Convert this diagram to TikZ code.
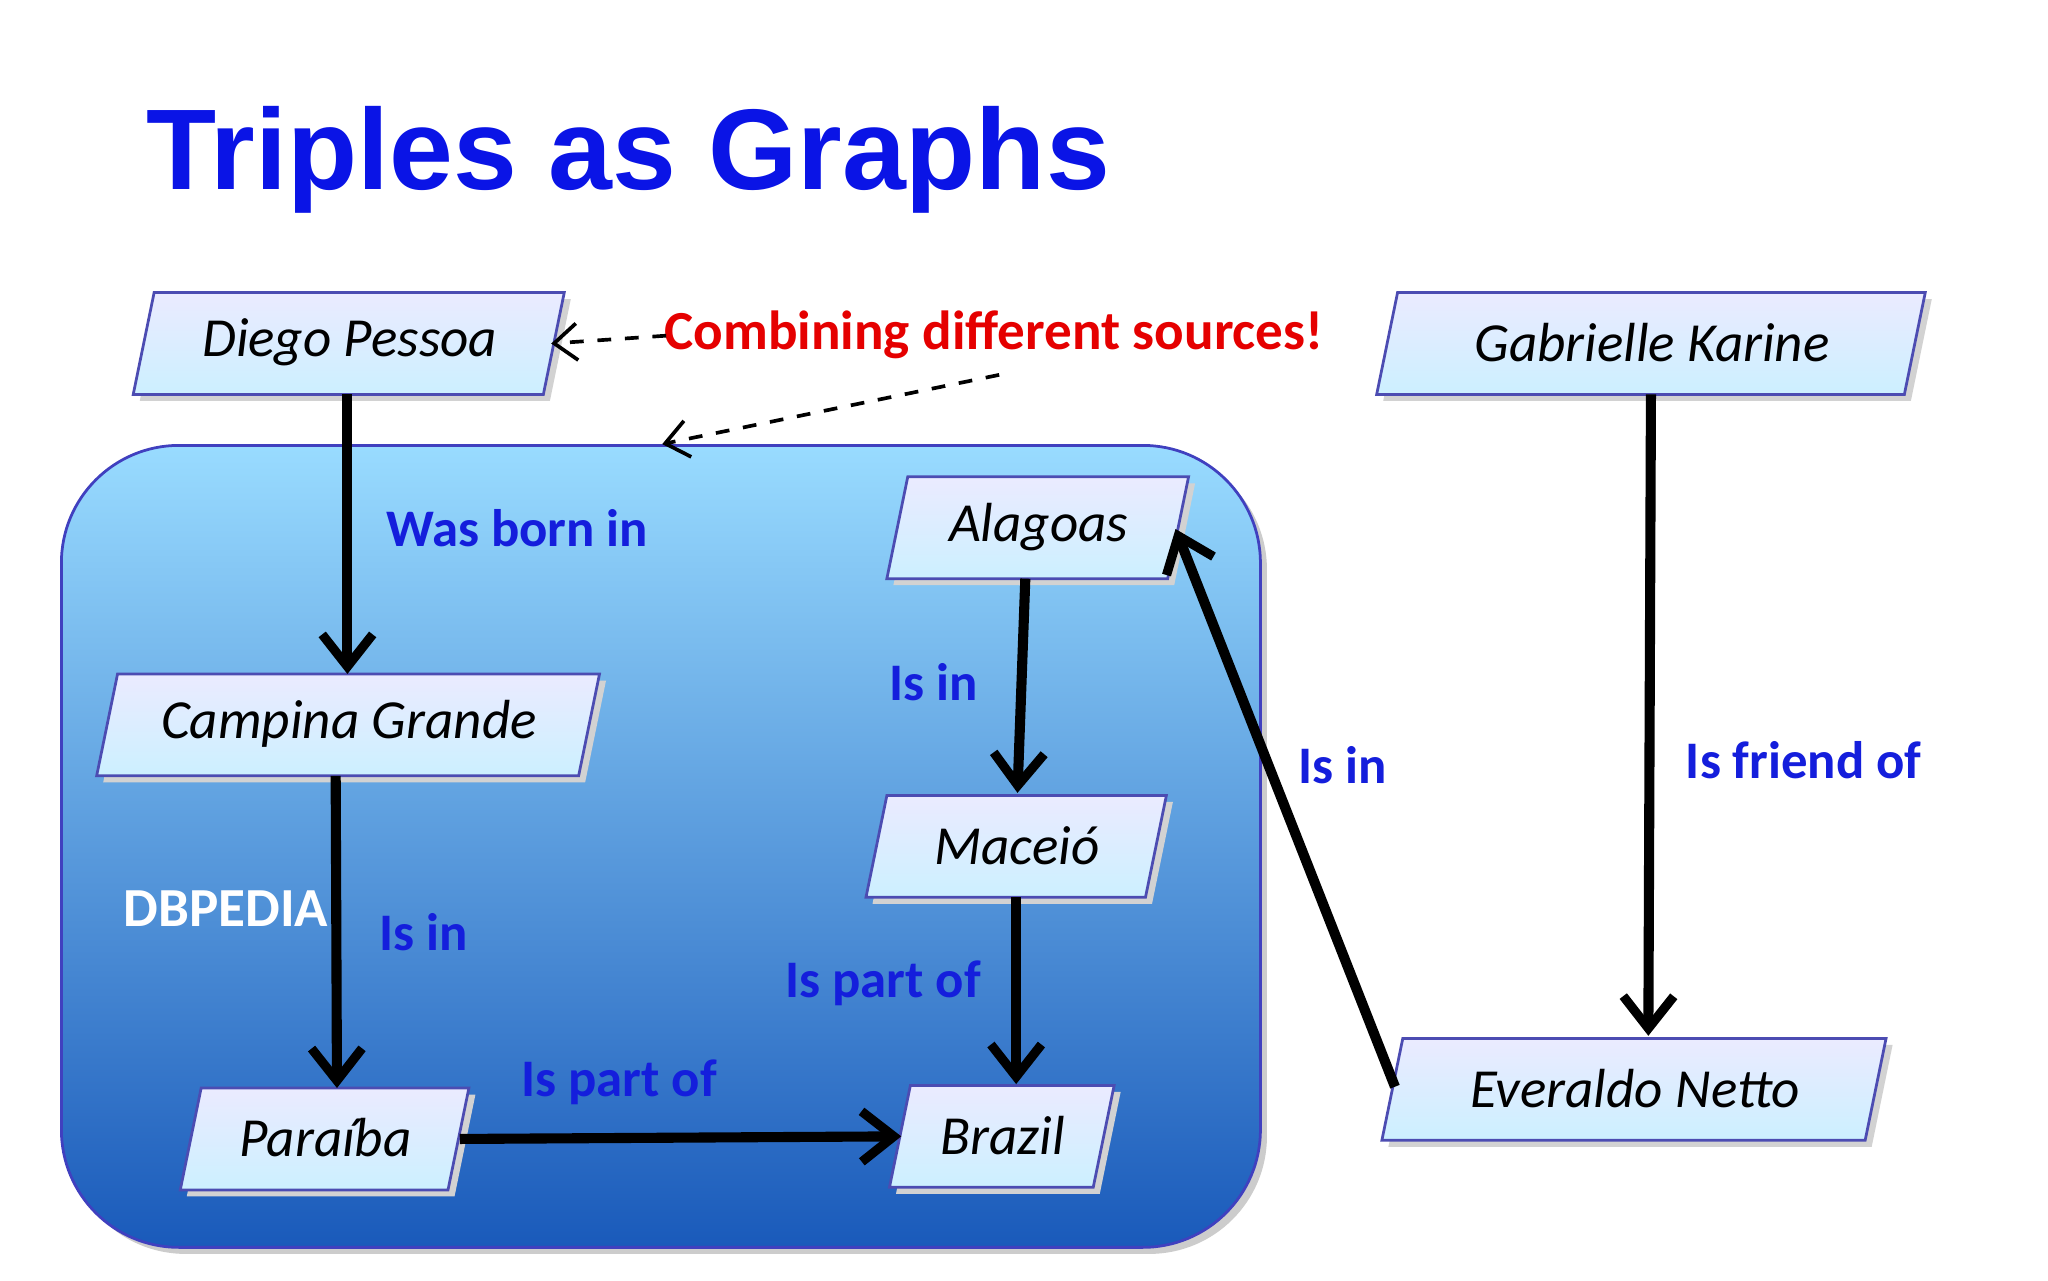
\documentclass[tikz,border=0pt]{standalone}
\usepackage{fontspec}
\setmainfont{Carlito}
\newfontfamily\titlefont{Liberation Sans}
\usetikzlibrary{arrows.meta,calc}
\definecolor{tblue}{RGB}{10,20,230}
\definecolor{lblue}{RGB}{20,30,220}
\tikzset{
 pgbox/.style={inner sep=0pt,font=\itshape\fontsize{12}{14}\selectfont},
 rel/.style={line width=2.2pt,-{Straight Barb[length=7pt,width=11pt,line width=2pt]}},
 lab/.style={font=\bfseries\fontsize{11.5}{13}\selectfont,text=lblue},
 dsh/.style={dashed,line width=0.8pt,-{Straight Barb[length=5pt,width=8pt]}}
}
\newcommand{\pgnode}[5]{%
 \fill[gray!35] (#2+0.05,#3-0.05) -- ++(#4,0) -- ++(0.16,0.78) -- ++(-#4,0) -- cycle;
 \shade[top color=blue!8,bottom color=blue!30!cyan!20,draw=blue!40!gray,line width=0.6pt] (#2,#3) -- ++(#4,0) -- ++(0.16,0.78) -- ++(-#4,0) -- cycle;
 \node[pgbox,minimum width=#4 cm,minimum height=0.78cm,anchor=south west] (#1) at (#2+0.08,#3) {#5};}
\begin{document}
\begin{tikzpicture}[x=1cm,y=1cm]
\useasboundingbox (0,0) rectangle (15.68,9.8);
\fill[white] (0,0) rectangle (15.68,9.8);
\node[anchor=west,font=\titlefont\bfseries\fontsize{25}{28}\selectfont,text=tblue] (title) at (1.0,8.58) {Triples as Graphs};
\fill[gray!40,rounded corners=0.9cm] (0.52,0.2) rectangle (9.70,6.34);
\shade[top color=blue!35!cyan!40!white,bottom color=blue!60!cyan!70!black!90,draw=blue!50!gray,line width=0.6pt,rounded corners=0.9cm] (0.47,0.25) rectangle (9.65,6.39);
\node[font=\bfseries\fontsize{12}{14}\selectfont,text=white] (db) at (1.73,2.84) {DBPEDIA};
\pgnode{diego}{1.02}{6.78}{3.14}{Diego Pessoa}
\pgnode{gab}{10.54}{6.78}{4.04}{Gabrielle Karine}
\pgnode{ala}{6.79}{5.37}{2.15}{Alagoas}
\pgnode{camp}{0.74}{3.86}{3.69}{Campina Grande}
\pgnode{mac}{6.63}{2.93}{2.14}{Maceió}
\pgnode{par}{1.38}{0.69}{2.05}{Paraíba}
\pgnode{bra}{6.81}{0.71}{1.56}{Brazil}
\pgnode{eve}{10.58}{1.07}{3.70}{Everaldo Netto}
\draw[rel] (2.66,6.78) -- (2.66,4.64);
\draw[rel] (2.57,3.86) -- (2.58,1.47);
\draw[rel] (3.52,1.08) -- (6.90,1.10);
\draw[rel] (7.85,5.37) -- (7.79,3.73);
\draw[rel] (7.78,2.93) -- (7.78,1.50);
\draw[rel] (10.68,1.48) -- (9.00,5.75);
\draw[rel] (12.64,6.78) -- (12.62,1.87);
\node[font=\bfseries\fontsize{12}{14}\selectfont,text=red!90!black] (comb) at (7.61,7.24) {Combining different sources!};
\coordinate (c1) at (5.10,7.23);
\coordinate (c2) at (7.65,6.93);
\coordinate (c3) at (5.07,6.40);
\draw[dsh] (c1) -- (4.22,7.17);
\draw[dsh] (c2) -- (c3);
\node[lab] (l1) at (3.96,5.76) {Was born in};
\node[lab] (l2) at (7.15,4.58) {Is in};
\node[lab] (l3) at (10.28,3.94) {Is in};
\node[lab] (l4) at (13.81,3.98) {Is friend of};
\node[lab] (l5) at (3.24,2.66) {Is in};
\node[lab] (l6) at (6.76,2.27) {Is part of};
\node[lab] (l7) at (4.74,1.51) {Is part of};
\end{tikzpicture}
\end{document}
